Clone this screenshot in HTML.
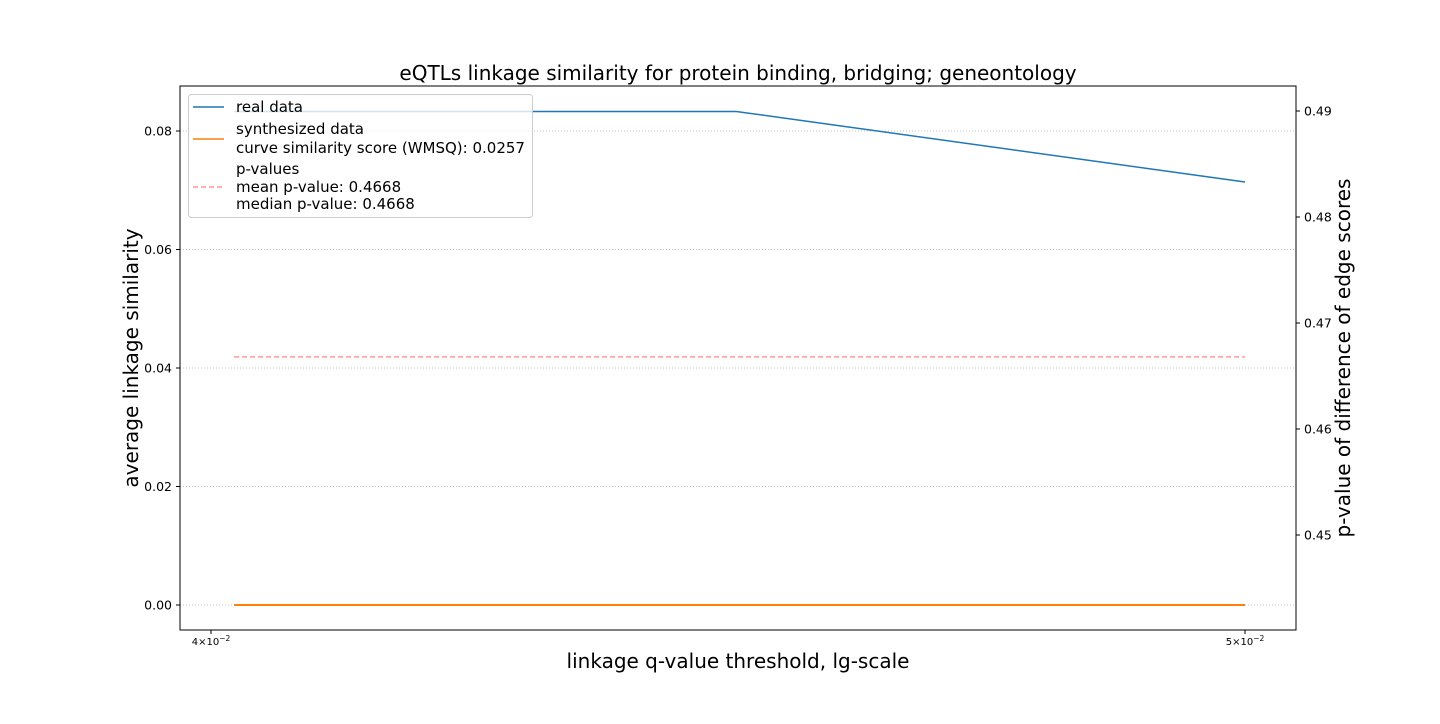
<!DOCTYPE html>
<html><head><meta charset="utf-8"><style>
body{margin:0;background:#fff;font-family:"DejaVu Sans","Liberation Sans",sans-serif}
</style></head><body>
<svg width="1440" height="720" xmlns="http://www.w3.org/2000/svg" font-family="DejaVu Sans, Liberation Sans, sans-serif">
<g id="grid"></g>
<g id="series"></g>
<rect x="180" y="86" width="1116" height="544" fill="none" stroke="#000" stroke-width="1"/>
<g id="axes"></g>
<text x="738" y="80" text-anchor="middle" font-size="20">eQTLs linkage similarity for protein binding, bridging; geneontology</text>
<text x="738" y="668" text-anchor="middle" font-size="20">linkage q-value threshold, lg-scale</text>
<text transform="translate(138,358) rotate(-90)" text-anchor="middle" font-size="20">average linkage similarity</text>
<text transform="translate(1350,358) rotate(-90)" text-anchor="middle" font-size="20">p-value of difference of edge scores</text>
<g>
<rect x="188.5" y="94.5" width="344" height="123" rx="3" fill="#fff" fill-opacity="0.8" stroke="#ccc"/>
<line x1="193" y1="107" x2="224" y2="107" stroke="#1f77b4" stroke-width="1.5"/>
<text x="236" y="112" font-size="15">real data</text>
<line x1="193" y1="139" x2="224" y2="139" stroke="#ff7f0e" stroke-width="1.5"/>
<text x="236" y="134" font-size="15">synthesized data</text>
<text x="236" y="153" font-size="15">curve similarity score (WMSQ): 0.0257</text>
<line x1="193" y1="187" x2="224" y2="187" stroke="#ff9999" stroke-width="1.5" stroke-dasharray="5,3"/>
<text x="236" y="174" font-size="15">p-values</text>
<text x="236" y="192" font-size="15">mean p-value: 0.4668</text>
<text x="236" y="209" font-size="15">median p-value: 0.4668</text>
</g>
</svg>
<script>
const xValues=[0.0402,0.0448,0.05];
const realData=[0.0833,0.0833,0.0714];
const synthData=[0,0,0];
const pValues=[0.4668,0.4668,0.4668];
const yTicks=[0,0.02,0.04,0.06,0.08];
const yTickLabels=["0.00","0.02","0.04","0.06","0.08"];
const y2Ticks=[0.45,0.46,0.47,0.48,0.49];
const xTicks=[0.04,0.05];
const xTickBases=["4","5"];
const NS="http://www.w3.org/2000/svg";
function X(v){return 211+(Math.log(v)-Math.log(0.04))/(Math.log(0.05)-Math.log(0.04))*(1245-211);}
function Y(v){return 605-v/0.02*118.5;}
function Y2(v){return 111+(0.49-v)*10600;}
function mk(t,a,p){const e=document.createElementNS(NS,t);for(const k in a)e.setAttribute(k,a[k]);p.appendChild(e);return e;}
const grid=document.getElementById('grid'),axes=document.getElementById('axes'),series=document.getElementById('series');
yTicks.forEach((v,i)=>{const y=Y(v);
 const g=mk('line',{x1:180,x2:1296,y1:y,y2:y,stroke:'#b0b0b0','stroke-width':0.8,'stroke-dasharray':'1,2'},grid);
 
 
 const t=mk('line',{x1:176,x2:180,y1:y,y2:y,stroke:'#000'},axes);
 
 
 const l=mk('text',{x:172,y:y+4.5,'text-anchor':'end','font-size':12.5},axes);l.textContent=yTickLabels[i];
 
 
});
y2Ticks.forEach(v=>{const y=Y2(v);
 const t=mk('line',{x1:1296,x2:1300,y1:y,y2:y,stroke:'#000'},axes);
 
 
 const l=mk('text',{x:1304,y:y+4.5,'font-size':12.5},axes);l.textContent=v.toFixed(2);
 
 
});
xTicks.forEach((v,i)=>{const x=X(v);
 const t=mk('line',{x1:x,x2:x,y1:630,y2:634,stroke:'#000'},axes);
 
 
 const l=mk('text',{x:x,y:645,'text-anchor':'middle','font-size':10},axes);
 l.innerHTML=xTickBases[i]+'\u00d710<tspan dy="-4" font-size="7.5">\u22122</tspan>';
 
 
});
function line(vals,fy,attrs,name){const pts=xValues.map((x,i)=>X(x)+','+fy(vals[i])).join(' ');
 const p=mk('polyline',Object.assign({points:pts,fill:'none'},attrs),series);
 
 }
line(pValues,Y2,{stroke:'#ff9999','stroke-width':1.5,'stroke-dasharray':'5,3'},'pvalue-line');
line(realData,Y,{stroke:'#1f77b4','stroke-width':1.5},'real-data-line');
line(synthData,Y,{stroke:'#ff7f0e','stroke-width':2},'synth-data-line');
</script>
</body></html>
